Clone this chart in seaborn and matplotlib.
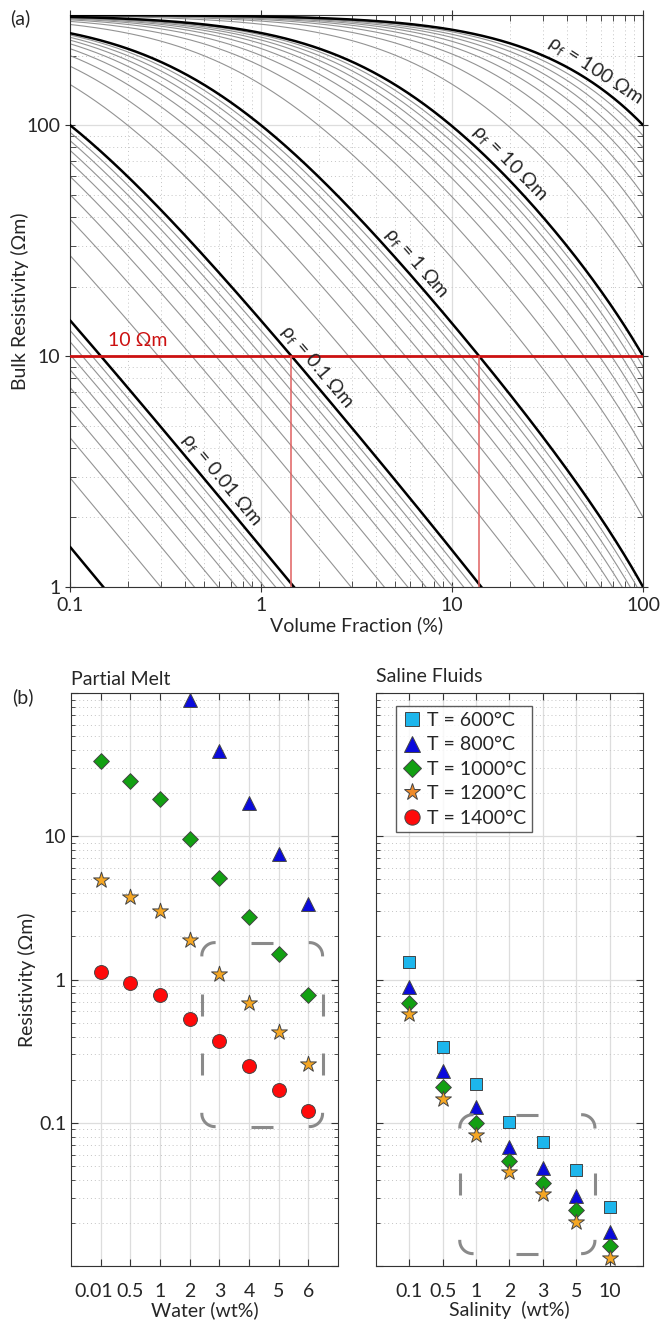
import numpy as np
import pandas as pd
import matplotlib
matplotlib.use('Agg')
import matplotlib.pyplot as plt
import seaborn as sns
from matplotlib.lines import Line2D
from matplotlib.transforms import IdentityTransform, ScaledTranslation
from matplotlib.ticker import FixedLocator, NullFormatter, LogLocator

sns.set_style('ticks')
plt.rcParams['font.family'] = ['Lato', 'DejaVu Sans']
plt.rcParams['mathtext.default'] = 'regular'
plt.rcParams['font.size'] = 14
FS = 14

# ---------------- (a) matrix + fluid, Hashin-Shtrikman upper bound ----------------
rho_matrix = 300.0
rho_fluid_thick = [0.001, 0.01, 0.1, 1, 10, 100]
rho_fluid_thin = [0.002, 0.003, 0.004, 0.005, 0.006, 0.007, 0.008, 0.009,
                  0.02, 0.03, 0.04, 0.05, 0.06, 0.07, 0.08, 0.09,
                  0.2, 0.3, 0.4, 0.5, 0.6, 0.7, 0.8, 0.9,
                  2, 3, 4, 5, 6, 7, 8, 9,
                  20, 30, 40, 50, 60, 70, 80, 90]
label_fluids = [0.01, 0.1, 1, 10, 100]
label_names = ['0.01', '0.1', '1', '10', '100']
label_at_pct = [0.55, 1.75, 5.8, 18, 52]
target_rho = 10
cross_fluids = [0.1, 1]
vf_pct = np.logspace(-1, 2, 400)


def hs_upper(vf, rho_f, rho_m):
    phi = vf / 100.0
    s_f, s_m = 1.0 / rho_f, 1.0 / rho_m
    s = s_f + (1 - phi) / (1.0 / (s_m - s_f) + phi / (3 * s_f))
    return 1.0 / s


def curves(fluids):
    parts = []
    for rf in fluids:
        parts.append(pd.DataFrame({'vf': vf_pct, 'rho': hs_upper(vf_pct, rf, rho_matrix), 'fluid': rf}))
    return pd.concat(parts, ignore_index=True)


thin_df = curves(rho_fluid_thin)
thick_df = curves(rho_fluid_thick)

# ---------------- (b) measured resistivities ----------------
water_cats = ['0.01', '0.5', '1', '2', '3', '4', '5', '6']
melt_800_x = ['2', '3', '4', '5', '6']
melt_800 = [89, 39.3, 17.0, 7.5, 3.35]
melt_1000 = [33.3, 24.2, 18.1, 9.5, 5.1, 2.73, 1.51, 0.785]
melt_1200 = [4.95, 3.79, 3.0, 1.9, 1.1, 0.69, 0.43, 0.257]
melt_1400 = [1.13, 0.94, 0.785, 0.53, 0.37, 0.25, 0.17, 0.12]

salinity_cats = ['0.1', '0.5', '1', '2', '3', '5', '10']
fluid_600 = [1.32, 0.336, 0.187, 0.102, 0.073, 0.047, 0.026]
fluid_800 = [0.88, 0.229, 0.128, 0.068, 0.048, 0.031, 0.0174]
fluid_1000 = [0.69, 0.179, 0.100, 0.054, 0.038, 0.0246, 0.0138]
fluid_1200 = [0.575, 0.146, 0.082, 0.045, 0.032, 0.0204, 0.0113]

temps = ['T = 600°C', 'T = 800°C', 'T = 1000°C', 'T = 1200°C', 'T = 1400°C']
colors = {'T = 600°C': '#1DB6EC', 'T = 800°C': '#0A0ADC', 'T = 1000°C': '#12A012',
          'T = 1200°C': '#F5A623', 'T = 1400°C': '#FF0A0A'}
markers = {'T = 600°C': 's', 'T = 800°C': '^', 'T = 1000°C': 'D', 'T = 1200°C': '*', 'T = 1400°C': 'o'}
sizes = {'T = 600°C': 9, 'T = 800°C': 10, 'T = 1000°C': 8, 'T = 1200°C': 12, 'T = 1400°C': 10}

melt_df = pd.concat([
    pd.DataFrame({'cat': melt_800_x, 'rho': melt_800, 'T': 'T = 800°C'}),
    pd.DataFrame({'cat': water_cats, 'rho': melt_1000, 'T': 'T = 1000°C'}),
    pd.DataFrame({'cat': water_cats, 'rho': melt_1200, 'T': 'T = 1200°C'}),
    pd.DataFrame({'cat': water_cats, 'rho': melt_1400, 'T': 'T = 1400°C'}),
], ignore_index=True)
fluid_df = pd.concat([
    pd.DataFrame({'cat': salinity_cats, 'rho': fluid_600, 'T': 'T = 600°C'}),
    pd.DataFrame({'cat': salinity_cats, 'rho': fluid_800, 'T': 'T = 800°C'}),
    pd.DataFrame({'cat': salinity_cats, 'rho': fluid_1000, 'T': 'T = 1000°C'}),
    pd.DataFrame({'cat': salinity_cats, 'rho': fluid_1200, 'T': 'T = 1200°C'}),
], ignore_index=True)

# dashed boxes (category index, resistivity)
melt_box = [3.41, 7.48, 0.094, 1.81]
fluid_box = [1.51, 5.56, 0.0122, 0.1138]


def dashed_round_box(fig, x0, y0, x1, y1, r=13, dash=22, period=55, **kw):
    # rounded rectangle in pixel coords, dashes centred on the corners
    corners = [(x0 + r, y1 - r, 180, 90), (x1 - r, y1 - r, 90, 0),
               (x1 - r, y0 + r, 0, -90), (x0 + r, y0 + r, -90, -180)]
    pts, mids = [], []
    for cx, cy, a0, a1 in corners:
        th = np.radians(np.linspace(a0, a1, 31))
        mids.append(len(pts) + 15)
        pts.extend(zip(cx + r * np.cos(th), cy + r * np.sin(th)))
    pts.append(pts[0])
    pts = np.array(pts)
    seg = np.hypot(*np.diff(pts, axis=0).T)
    s = np.concatenate([[0], np.cumsum(seg)])
    total = s[-1]
    pts2 = np.vstack([pts, pts[1:]])
    s2 = np.concatenate([s, s[1:] + total])
    ms = [s[m] for m in mids] + [s[mids[0]] + total]
    for i in range(4):
        L = ms[i + 1] - ms[i]
        n = max(1, int(round(L / period)))
        p = L / n
        for k in range(n):
            c = ms[i] + k * p
            a, b = c - dash / 2, c + dash / 2
            if a < 0:
                a, b = a + total, b + total
            inside = (s2 > a) & (s2 < b)
            xs = np.concatenate([[np.interp(a, s2, pts2[:, 0])], pts2[inside, 0], [np.interp(b, s2, pts2[:, 0])]])
            ys = np.concatenate([[np.interp(a, s2, pts2[:, 1])], pts2[inside, 1], [np.interp(b, s2, pts2[:, 1])]])
            fig.add_artist(Line2D(xs, ys, transform=IdentityTransform(), solid_capstyle='butt', **kw))


fig = plt.figure(figsize=(6.6, 13.22), dpi=100)
ax = fig.add_axes([0.1061, 0.5560, 0.8682, 0.4327])
ax.set(xscale='log', yscale='log')

sns.lineplot(data=thin_df, x='vf', y='rho', units='fluid', estimator=None, sort=False,
             color='#939393', linewidth=0.8, ax=ax, zorder=2)
sns.lineplot(data=thick_df, x='vf', y='rho', units='fluid', estimator=None, sort=False,
             color='black', linewidth=1.8, ax=ax, zorder=3)
ax.set_xlim(0.1, 100)
ax.set_ylim(1, 300)

ax.axhline(target_rho, color='#CC1111', lw=2.0, zorder=5)
for rf in cross_fluids:
    r = hs_upper(vf_pct, rf, rho_matrix)
    xc = np.exp(np.interp(np.log(target_rho), np.log(r[::-1]), np.log(vf_pct[::-1])))
    ax.vlines(xc, 1, target_rho, color='#E06060', lw=1.1, zorder=5)
ax.text(0.226, 10.7, '10 Ωm', color='#CC1111', fontsize=FS, ha='center', va='bottom')

for rf, name, xl in zip(label_fluids, label_names, label_at_pct):
    yl = hs_upper(xl, rf, rho_matrix)
    p1 = ax.transData.transform((xl * 0.9, hs_upper(xl * 0.9, rf, rho_matrix)))
    p2 = ax.transData.transform((xl * 1.1, hs_upper(xl * 1.1, rf, rho_matrix)))
    ang = np.degrees(np.arctan2(p2[1] - p1[1], p2[0] - p1[0]))
    off = 1.5
    ax.annotate('ρ$_{f}$ = ' + name + ' Ωm', (xl, yl),
                xytext=(-np.sin(np.radians(ang)) * off, np.cos(np.radians(ang)) * off),
                textcoords='offset points', rotation=ang, rotation_mode='anchor',
                ha='center', va='bottom', fontsize=FS, zorder=6)

ax.xaxis.set_major_locator(FixedLocator([0.1, 1, 10, 100]))
ax.set_xticklabels(['0.1', '1', '10', '100'])
ax.yaxis.set_major_locator(FixedLocator([1, 10, 100]))
ax.set_yticklabels(['1', '10', '100'])
ax.xaxis.set_minor_locator(LogLocator(base=10, subs=np.arange(2, 10)))
ax.yaxis.set_minor_locator(LogLocator(base=10, subs=np.arange(2, 10)))
ax.xaxis.set_minor_formatter(NullFormatter())
ax.yaxis.set_minor_formatter(NullFormatter())
ax.grid(which='major', color='#dddddd', lw=0.9)
ax.grid(which='minor', color='#c4c4c4', lw=0.7, ls=(0, (1, 3)))
ax.set_axisbelow(True)
ax.tick_params(which='major', direction='inout', length=7, top=True, right=True, labelsize=FS, color='#333333')
ax.tick_params(which='minor', direction='in', length=4, top=True, right=True, color='#333333')
ax.set_xlabel('Volume Fraction (%)', fontsize=FS, labelpad=2)
ax.set_ylabel('Bulk Resistivity (Ωm)', fontsize=FS, labelpad=-2)
for s in ax.spines.values():
    s.set_color('#333333')
fig.text(10 / 660, 1 - 18 / 1322, '(a)', fontsize=FS, va='center')

# ---------------- (b) panels ----------------
axl = fig.add_axes([0.1076, 0.04236, 0.4045, 0.4334])
axr = fig.add_axes([0.5697, 0.04236, 0.4045, 0.4334])

for a, df, cats in [(axl, melt_df, water_cats), (axr, fluid_df, salinity_cats)]:
    for t in temps:
        sub = df[df['T'] == t]
        if sub.empty:
            continue
        sns.stripplot(data=sub, x='cat', y='rho', order=cats, jitter=False, marker=markers[t],
                      size=sizes[t], color=colors[t], edgecolor='#444444', linewidth=0.7,
                      ax=a, zorder=4)
    a.set_yscale('log')
    a.set_ylim(0.01, 100)
    a.set_xlim(-1, len(cats))
    a.yaxis.set_major_locator(FixedLocator([0.01, 0.1, 1, 10, 100]))
    a.yaxis.set_minor_locator(LogLocator(base=10, subs=np.arange(2, 10)))
    a.yaxis.set_minor_formatter(NullFormatter())
    a.grid(which='major', axis='both', color='#dddddd', lw=0.9)
    a.grid(which='minor', axis='y', color='#c4c4c4', lw=0.7, ls=(0, (1, 3)))
    a.set_axisbelow(True)
    a.tick_params(which='major', direction='in', length=5, top=True, right=True, labelsize=FS, color='#333333')
    a.tick_params(which='minor', direction='in', length=3, top=True, right=True, color='#333333')
    a.tick_params(axis='x', pad=12)
    for s in a.spines.values():
        s.set_color('#333333')

axl.set_yticklabels(['', '0.1', '1', '10', ''])
axr.set_yticklabels([])
axl.set_ylabel('Resistivity (Ωm)', fontsize=FS, labelpad=2)
axr.set_ylabel('')
axl.set_xlabel('Water (wt%)', fontsize=FS, labelpad=1)
axr.set_xlabel('Salinity  (wt%)', fontsize=FS, labelpad=1)
axl.set_title('Partial Melt', loc='left', fontsize=FS, pad=6)
axr.set_title('Saline Fluids', loc='left', fontsize=FS, pad=8)
fig.text(12 / 660, 1 - 697 / 1322, '(b)', fontsize=FS, va='center')

# the crowded first water label sits a little to the left
first = axl.get_xticklabels()[0]
first.set_transform(first.get_transform() + ScaledTranslation(-0.07, 0, fig.dpi_scale_trans))

handles = [Line2D([], [], ls='none', marker=markers[t], ms=sizes[t] * (1.1 if t != 'T = 1200°C' else 1.05),
                  mfc=(colors[t] if t != 'T = 1200°C' else '#EE8A2A'), mec='#444444', mew=0.7)
           for t in temps]
leg = axr.legend(handles, temps, loc='upper left', bbox_to_anchor=(0.075, 0.977), frameon=True,
                 fancybox=False, edgecolor='#333333', fontsize=FS, handlelength=1.0,
                 handletextpad=0.3, labelspacing=0.38, borderpad=0.3, borderaxespad=0)
leg.get_frame().set_linewidth(1.0)

for a, box in [(axl, melt_box), (axr, fluid_box)]:
    x0, y0 = a.transData.transform((box[0], box[2]))
    x1, y1 = a.transData.transform((box[1], box[3]))
    dashed_round_box(fig, x0, y0, x1, y1, color='#8a8a8a', lw=2.2, zorder=3)

fig.savefig('out.png', dpi=100)
